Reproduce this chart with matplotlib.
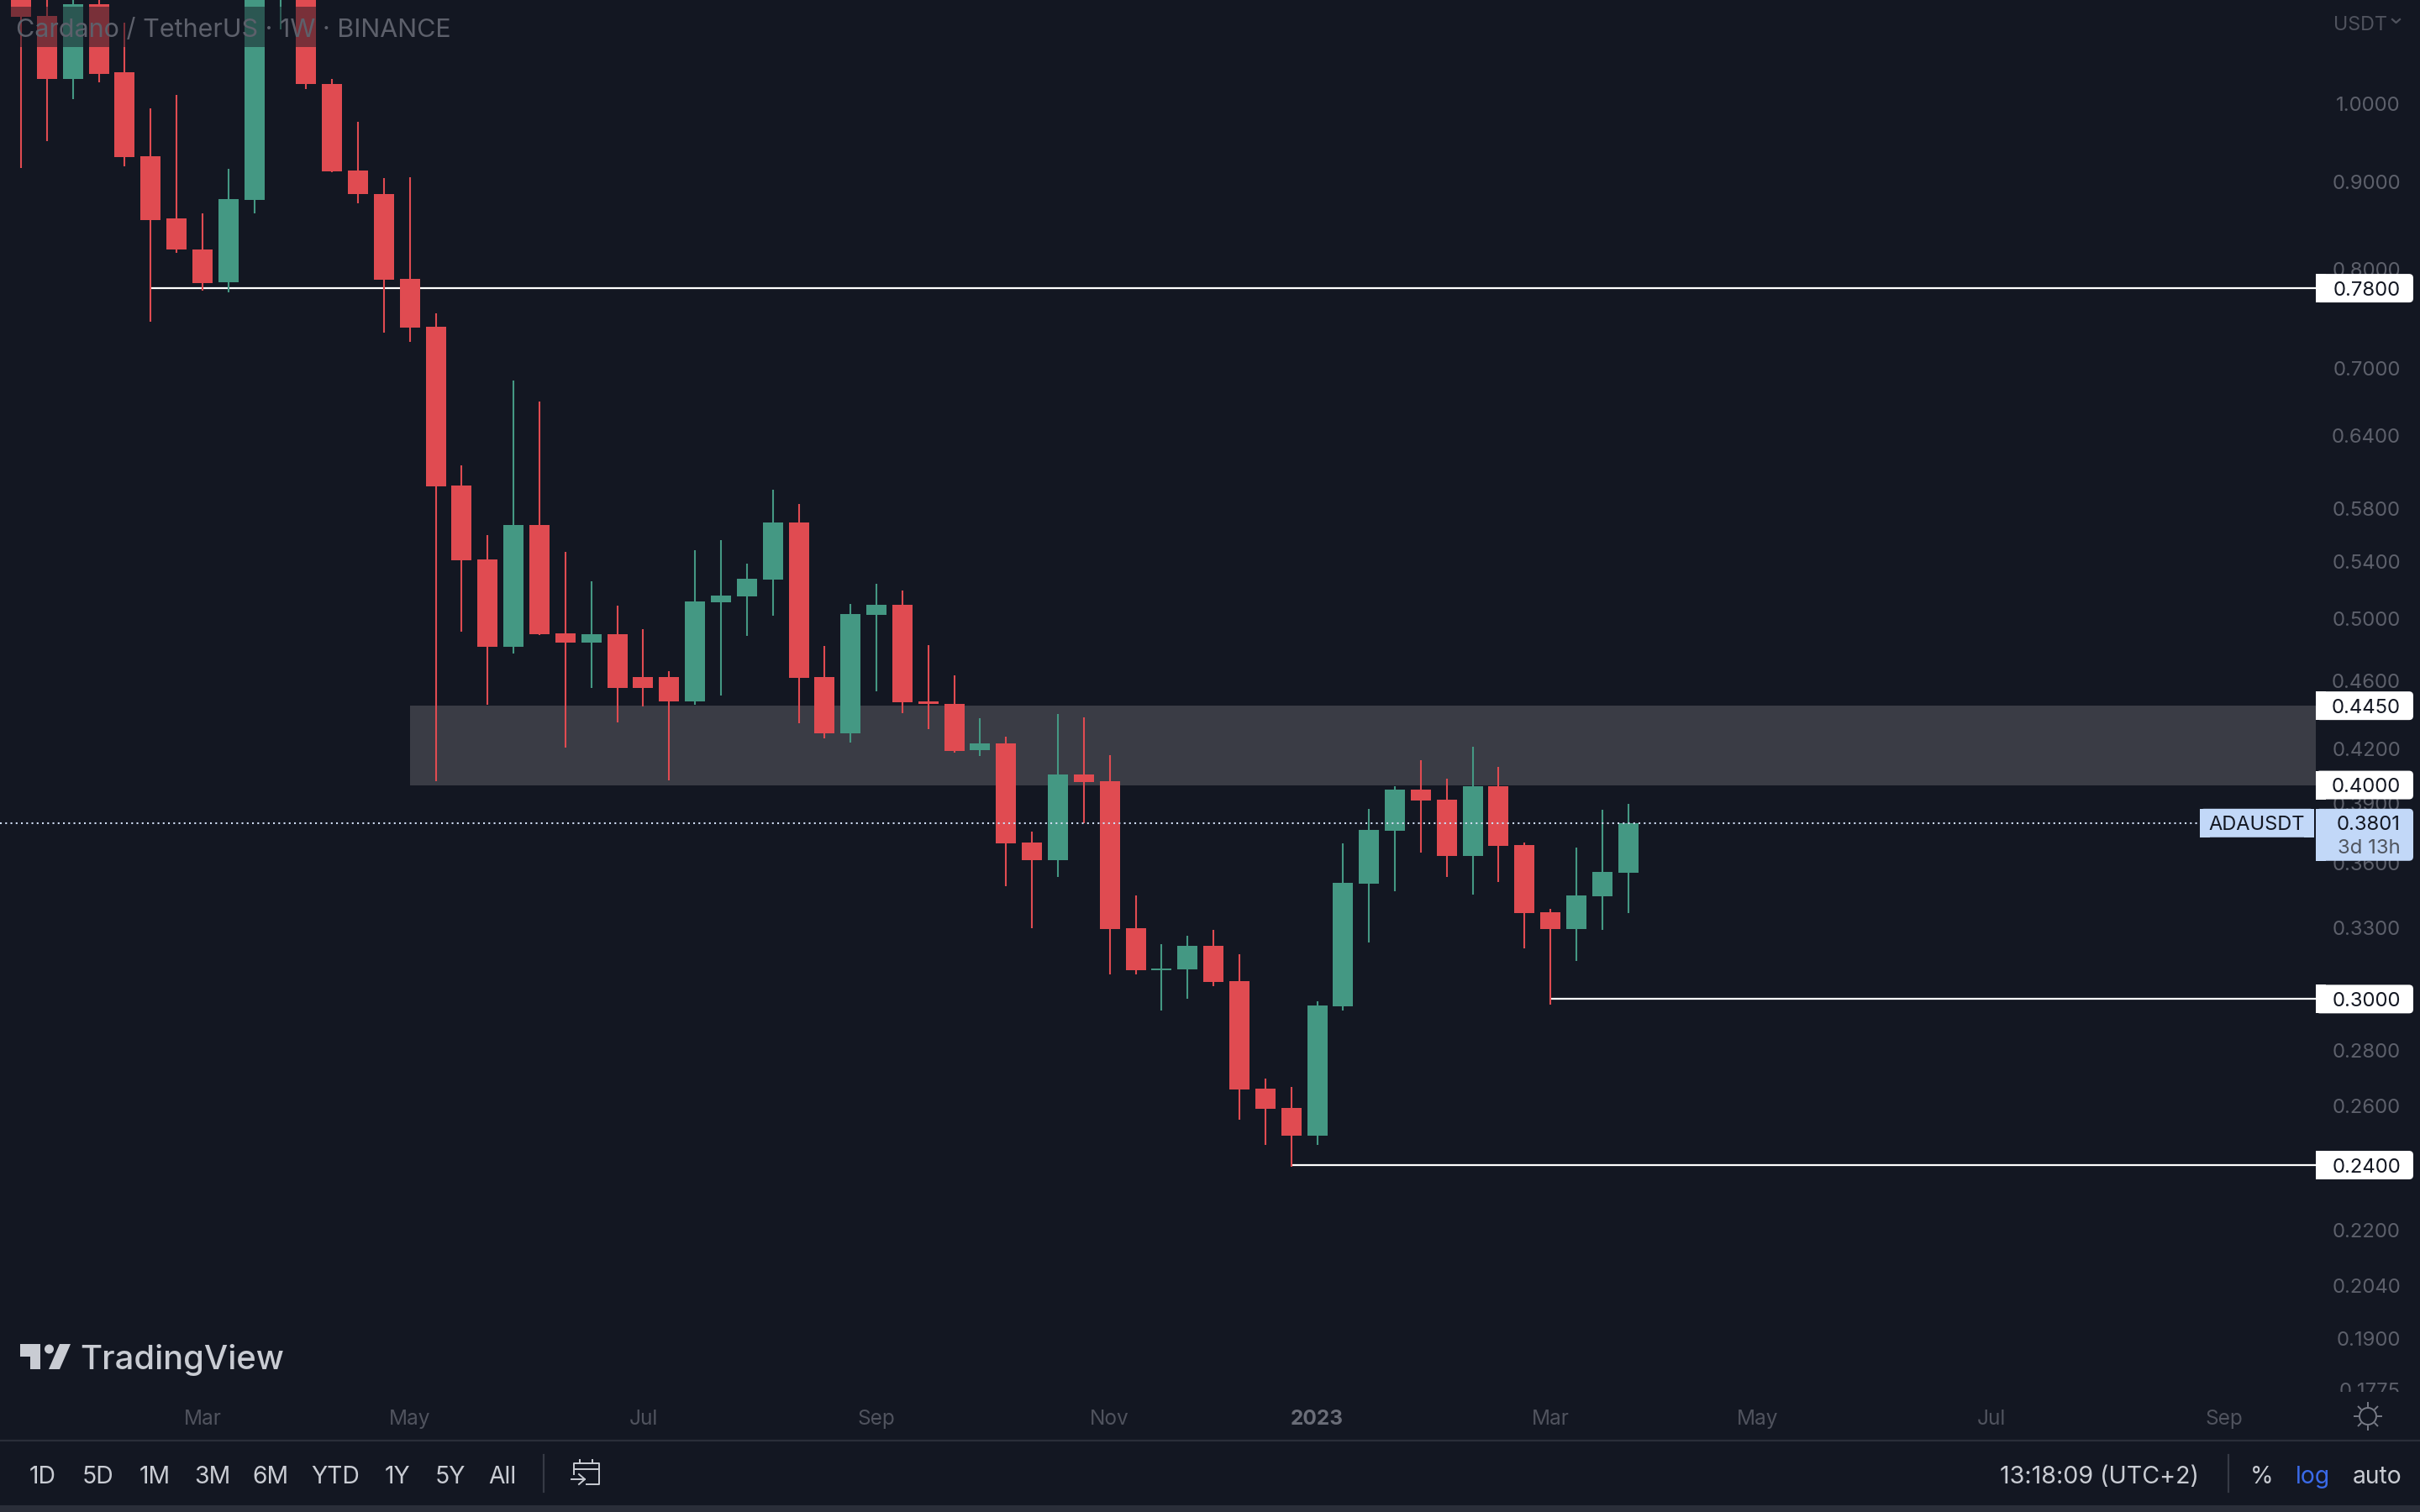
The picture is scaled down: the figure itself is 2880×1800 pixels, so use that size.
import numpy as np
import matplotlib
matplotlib.use("Agg")
import matplotlib.pyplot as plt
from matplotlib.patches import Rectangle, FancyBboxPatch, Polygon, Circle

opens = [1.1886, 1.1246, 1.0333, 1.1425, 1.0427, 0.9313, 0.8567, 0.8216, 0.7862, 0.8782, 1.2295, 1.2719, 1.0263, 0.9136,
         0.8852, 0.7898, 0.7406, 0.5983, 0.5417, 0.4817, 0.5673, 0.4905, 0.4844, 0.4899, 0.4625, 0.4625, 0.4476, 0.5114,
         0.5154, 0.5272, 0.5693, 0.4625, 0.4288, 0.5028, 0.5096, 0.4476, 0.4461, 0.4192, 0.4230, 0.3703, 0.3616, 0.4057,
         0.4021, 0.3300, 0.3119, 0.3122, 0.3222, 0.3073, 0.2660, 0.2592, 0.2497, 0.2971, 0.3503, 0.3762, 0.3976, 0.3922,
         0.3636, 0.3993, 0.3690, 0.3371, 0.3296, 0.3444, 0.3555]
highs = [1.2295, 1.1752, 1.1886, 1.1620, 1.1145, 0.9932, 1.0114, 0.8625, 0.9157, 1.2863, 1.3157, 1.3009, 1.0333, 0.9755,
         0.9044, 0.9054, 0.7541, 0.6147, 0.5597, 0.6889, 0.6698, 0.5472, 0.5260, 0.5091, 0.4932, 0.4662, 0.5485, 0.5559,
         0.5386, 0.5949, 0.5836, 0.4822, 0.5102, 0.5242, 0.5195, 0.4828, 0.4635, 0.4376, 0.4269, 0.3757, 0.4401, 0.4381,
         0.4164, 0.3448, 0.3230, 0.3266, 0.3292, 0.3186, 0.2696, 0.2666, 0.2991, 0.3698, 0.3874, 0.3993, 0.4136, 0.4034,
         0.4211, 0.4099, 0.3703, 0.3387, 0.3678, 0.3869, 0.3900]
lows = [0.9167, 0.9505, 1.0057, 1.0286, 0.9188, 0.7456, 0.8179, 0.7774, 0.7757, 0.8625, 1.1045, 1.0194, 0.9116, 0.8743,
        0.7347, 0.7257, 0.4021, 0.4916, 0.4456, 0.4773, 0.4893, 0.4206, 0.4557, 0.4351, 0.4446, 0.4025, 0.4456, 0.4511,
        0.4888, 0.5022, 0.4346, 0.4259, 0.4235, 0.4537, 0.4406, 0.4312, 0.4178, 0.4159, 0.3491, 0.3300, 0.3535, 0.3800,
        0.3101, 0.3101, 0.2954, 0.3001, 0.3052, 0.2551, 0.2466, 0.2395, 0.2466, 0.2954, 0.3237, 0.3468, 0.3653, 0.3535,
        0.3452, 0.3511, 0.3212, 0.2978, 0.3158, 0.3292, 0.3368]
closes = [1.1233, 1.0333, 1.1425, 1.0403, 0.9303, 0.8548, 0.8216, 0.7854, 0.8792, 1.2719, 1.2719, 1.0263, 0.9126, 0.8852,
          0.7889, 0.7397, 0.5976, 0.5411, 0.4817, 0.5673, 0.4899, 0.4844, 0.4899, 0.4557, 0.4557, 0.4476, 0.5120, 0.5160,
          0.5278, 0.5693, 0.4620, 0.4288, 0.5034, 0.5096, 0.4471, 0.4461, 0.4187, 0.4230, 0.3698, 0.3616, 0.4057, 0.4016,
          0.3296, 0.3119, 0.3126, 0.3222, 0.3070, 0.2657, 0.2589, 0.2497, 0.2974, 0.3507, 0.3766, 0.3976, 0.3918, 0.3636,
          0.3993, 0.3686, 0.3368, 0.3296, 0.3448, 0.3559, 0.3800]

price_ticks = [1.0, 0.9, 0.8, 0.7, 0.64, 0.58, 0.54, 0.5, 0.46, 0.42, 0.39, 0.36, 0.33, 0.28, 0.26, 0.22, 0.204, 0.19, 0.1775]
time_ticks = [7, 15, 24, 33, 42, 50, 59, 67, 76, 85]
time_labels = ["Mar", "May", "Jul", "Sep", "Nov", "2023", "Mar", "May", "Jul", "Sep"]
# price, first candle of the line
level_prices = [0.78, 0.30, 0.24]
level_starts = [5, 59, 49]
zone_low, zone_high = 0.40, 0.445
zone_start = 15
last_price = 0.3801
range_buttons = ["1D", "5D", "1M", "3M", "6M", "YTD", "1Y", "5Y", "All"]
button_x = [51, 116, 184, 253, 322, 399, 473, 536, 598]

BG = "#131722"
RED = "#e04b51"
GREEN = "#449883"
FONT = ["Inter", "DejaVu Sans"]
W, H = 2880, 1800
PANE_BOTTOM = 1657
SCALE_LEFT = 2756
STEP = 30.85  # px per candle
FIRST = 25    # px of candle 0

plt.rcParams["font.family"] = FONT
fig = plt.figure(figsize=(14.4, 9), dpi=200, facecolor=BG)
ax = fig.add_axes([0, 1 - PANE_BOTTOM / H, 1, PANE_BOTTOM / H], facecolor=BG)
ax.set_yscale("log")
ax.set_ylim(0.17694, 1.1490)
ax.set_xlim(-FIRST / STEP, (W - FIRST) / STEP)
for s in ax.spines.values():
    s.set_visible(False)
scale_idx = (SCALE_LEFT - FIRST) / STEP

# zone and levels go under the candles
ax.add_patch(Rectangle((zone_start, zone_low), scale_idx - zone_start, zone_high - zone_low,
                       fc="#3a3c45", ec="none", zorder=1))
ax.hlines(level_prices, level_starts, scale_idx, color="white", lw=0.8, zorder=1.5)

idx = np.arange(len(opens))
o, h, l, c = map(np.array, (opens, highs, lows, closes))
colors = [GREEN if cc > oo else RED for oo, cc in zip(o, c)]
ax.vlines(idx, l, h, color=colors, lw=0.75, zorder=2)
ax.bar(idx, np.abs(c - o), bottom=np.minimum(o, c), width=24 / STEP, color=colors, lw=0, zorder=2.2)

ax.hlines(last_price, ax.get_xlim()[0], (2618 - FIRST) / STEP, color="#cfdcf2", lw=0.75,
          linestyles=[(0, (1, 2))], zorder=3)

ax.yaxis.tick_right()
ax.yaxis.set_major_locator(matplotlib.ticker.FixedLocator(price_ticks))
ax.yaxis.set_minor_locator(matplotlib.ticker.NullLocator())
ax.yaxis.set_major_formatter(matplotlib.ticker.FuncFormatter(lambda v, _: f"{v:.4f}"))
ax.tick_params(axis="y", length=0, pad=-8.3, labelsize=8.6, labelcolor="#5d606b")
for t in ax.get_yticklabels():
    t.set_ha("right")
    t.set_clip_on(True)
    t.set_clip_box(ax.bbox)
ax.set_xticks(time_ticks)
ax.set_xticklabels(time_labels)
ax.tick_params(axis="x", length=0, pad=7.6, labelsize=8.8, labelcolor="#50535e")
ax.get_xticklabels()[5].set_fontweight("bold")
ax.get_xticklabels()[5].set_color("#6a6d78")

# everything else is drawn in pixels on top
ov = fig.add_axes([0, 0, 1, 1], zorder=5)
ov.set_xlim(0, W)
ov.set_ylim(H, 0)
ov.axis("off")


def price_y(p):
    return H - ax.transData.transform((0, p))[1]


def box(x0, x1, y0, y1, color):
    ov.add_patch(FancyBboxPatch((x0, y0), x1 - x0, y1 - y0, boxstyle="round,pad=0,rounding_size=5",
                                fc=color, ec="none"))
    ov.add_patch(Rectangle((x0, y0), 12, y1 - y0, fc=color, ec="none"))


for p in [0.78, 0.445, 0.40, 0.30, 0.24]:
    y = price_y(p)
    box(SCALE_LEFT, 2872, y - 17, y + 17, "white")
    ov.text(2857, y, f"{p:.4f}", color="#131722", fontsize=8.6, ha="right", va="center_baseline")

y = price_y(last_price)
box(SCALE_LEFT, 2872, y - 17, y + 45, "#c2d8f8")
box(2618, 2754, y - 17, y + 17, "#c2d8f8")
ov.add_patch(Rectangle((2742, y - 17), 12, 34, fc="#c2d8f8", ec="none"))
ov.text(2857, y, f"{last_price:.4f}", color="#131722", fontsize=8.6, ha="right", va="center_baseline")
ov.text(2857, y + 28, "3d 13h", color="#50555f", fontsize=8.6, ha="right", va="center_baseline")
ov.text(2686, y, "ADAUSDT", color="#131722", fontsize=8.5, ha="center", va="center_baseline")

# legend strip
ov.add_patch(Rectangle((8, 8), 537, 48, fc=BG, ec="none", alpha=0.5))
ov.text(19, 33, "Cardano / TetherUS · 1W · BINANCE", color="#5d606b", fontsize=10.98, va="center_baseline")
ov.text(2777, 27, "USDT", color="#50535e", fontsize=8.4, va="center_baseline")
ov.plot([2847, 2851.5, 2856], [23, 27, 23], color="#50535e", lw=0.8)

# TradingView mark
logo = "#c9ccd3"
ov.add_patch(Polygon([(24, 1600), (48, 1600), (48, 1630), (36, 1630), (36, 1615), (24, 1615)], fc=logo, ec="none"))
ov.add_patch(Circle((58.5, 1606), 5.5, fc=logo, ec="none"))
ov.add_patch(Polygon([(71, 1600), (84, 1600), (71, 1630), (58, 1630)], fc=logo, ec="none"))
ov.text(95, 1630, "TradingView", color=logo, fontsize=14.4, fontweight="medium", va="baseline")

# sun icon
sun = "#787b86"
ov.add_patch(Circle((2818, 1686), 10, fc="none", ec=sun, lw=0.7))
for a in np.arange(8) * np.pi / 4:
    ov.plot([2818 + 12 * np.cos(a), 2818 + 16 * np.cos(a)], [1686 + 12 * np.sin(a), 1686 + 16 * np.sin(a)],
            color=sun, lw=0.7)

# toolbar
ov.plot([0, W], [1715, 1715], color="#2a2e39", lw=0.8)
ov.add_patch(Rectangle((0, 1792), W, 8, fc="#2a2e39", ec="none"))
fg = "#c9ccd3"
for label, x in zip(range_buttons, button_x):
    ov.text(x, 1755, label, color=fg, fontsize=10.2, ha="center", va="center_baseline")
ov.plot([647, 647], [1732, 1776], color="#363a45", lw=0.8)
ov.plot([2652, 2652], [1732, 1776], color="#363a45", lw=0.8)

# calendar icon
ov.plot([683, 683, 713, 713, 698], [1755, 1742, 1742, 1767, 1767], color=fg, lw=0.7)
ov.plot([683, 713], [1749, 1749], color=fg, lw=0.7)
ov.plot([690, 690], [1738, 1742], color=fg, lw=0.7)
ov.plot([705, 705], [1738, 1742], color=fg, lw=0.7)
ov.plot([680, 696], [1761, 1761], color=fg, lw=0.7)
ov.plot([689, 696, 689], [1755, 1761, 1767], color=fg, lw=0.7)

ov.text(2617, 1755, "13:18:09 (UTC+2)", color=fg, fontsize=10.3, ha="right", va="center_baseline")
ov.text(2692, 1755, "%", color=fg, fontsize=10.2, ha="center", va="center_baseline")
ov.text(2753, 1755, "log", color="#3a6ae8", fontsize=10.2, ha="center", va="center_baseline")
ov.text(2829, 1755, "auto", color=fg, fontsize=10.2, ha="center", va="center_baseline")

fig.savefig("out.png", dpi=200, facecolor=BG)
